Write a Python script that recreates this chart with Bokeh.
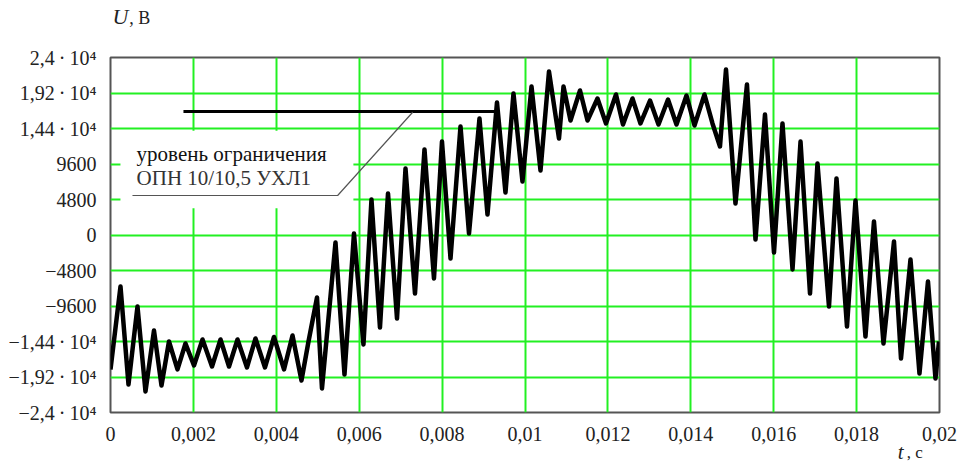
from bokeh.plotting import figure
from bokeh.models import FixedTicker, Label, Range1d
from bokeh.embed import file_html
from bokeh.resources import INLINE

# ---- data ----
t_s = [0.0, 0.000241, 0.000434, 0.000651, 0.000844, 0.001049, 0.001230, 0.001411,
       0.001616, 0.001809, 0.002014, 0.002220, 0.002449, 0.002654, 0.002859, 0.003064,
       0.003293, 0.003498, 0.003727, 0.003944, 0.004186, 0.004391, 0.004608, 0.004777,
       0.004982, 0.005102, 0.005428, 0.005645, 0.005874, 0.006103, 0.006296, 0.006501,
       0.006695, 0.006912, 0.007117, 0.007346, 0.007575, 0.007804, 0.007997, 0.008203,
       0.008444, 0.008649, 0.008902, 0.009095, 0.009324, 0.009529, 0.009722, 0.009939,
       0.010157, 0.010374, 0.010579, 0.010820, 0.010929, 0.011098, 0.011327, 0.011508,
       0.011749, 0.011954, 0.012195, 0.012364, 0.012593, 0.012786, 0.013016, 0.013221,
       0.013450, 0.013655, 0.013896, 0.014089, 0.014330, 0.014523, 0.014704, 0.014849,
       0.015078, 0.015355, 0.015561, 0.015790, 0.016007, 0.016212, 0.016454, 0.016647,
       0.016876, 0.017056, 0.017334, 0.017515, 0.017768, 0.017973, 0.018214, 0.018419,
       0.018649, 0.018902, 0.019071, 0.019300, 0.019517, 0.019722, 0.019903, 0.019987]
u_V = [-18180, -6960, -20210, -9670, -21160, -12910, -20350, -14400,
       -18180, -14670, -17640, -14130, -17780, -14130, -17780, -14130,
       -17910, -13990, -17910, -13790, -18180, -13590, -19670, -14400,
       -8450, -20750, -1010, -18860, 200, -14800, 4800, -12510,
       5610, -11290, 8990, -7910, 11560, -5880, 12640, -3180,
       14670, 200, 15750, 2770, 17910, 5750, 19130, 7230,
       20080, 8720, 22100, 13050, 20080, 15480, 19540, 15480,
       18460, 15080, 19000, 14940, 18460, 15080, 18180, 14940,
       18320, 14940, 18860, 14800, 19000, 15080, 11970, 22380,
       4260, 20350, -610, 16290, -2370, 15080, -4660, 12640,
       -7910, 9670, -9670, 7640, -12370, 4660, -13720, 1830,
       -14670, -880, -16700, -3310, -18730, -6290, -19400, -14400]

level_t = [0.00176, 0.00934]
level_u = [16700, 16700]
leader_t = [0.00053, 0.00548, 0.00729]
leader_u = [5340, 5340, 16600]
note_lines = ["уровень ограничения", "ОПН 10/10,5 УХЛ1"]

x_ticks = [0.0, 0.002, 0.004, 0.006, 0.008, 0.01, 0.012, 0.014, 0.016, 0.018, 0.02]
x_labels = ["0", "0,002", "0,004", "0,006", "0,008", "0,01", "0,012", "0,014", "0,016", "0,018", "0,02"]
y_ticks = [24000, 19200, 14400, 9600, 4800, 0, -4800, -9600, -14400, -19200, -24000]
y_labels = ["2,4\u2009·\u200910⁴", "1,92\u2009·\u200910⁴", "1,44\u2009·\u200910⁴", "9600", "4800", "0",
            "−4800", "−9600", "−1,44\u2009·\u200910⁴", "−1,92\u2009·\u200910⁴", "−2,4\u2009·\u200910⁴"]
y_sym, y_unit = "U", ", В"
x_sym, x_unit = "t", ", с"

SERIF = "Liberation Serif"

p = figure(width=964, height=464, output_backend="svg", toolbar_location=None,
           x_range=Range1d(0, 0.02), y_range=Range1d(-24000, 24000),
           min_border_left=110, min_border_right=25, min_border_top=57, min_border_bottom=52)
p.background_fill_color = "white"
p.border_fill_color = "white"
p.outline_line_color = "#555555"
p.outline_line_width = 2

for ax in (p.xaxis[0], p.yaxis[0]):
    ax.axis_line_color = None
    ax.major_tick_line_color = None
    ax.minor_tick_line_color = None
    ax.major_label_text_font = SERIF
    ax.major_label_text_font_size = "20px"
    ax.major_label_text_color = "#222222"

p.xaxis.ticker = FixedTicker(ticks=x_ticks)
p.yaxis.ticker = FixedTicker(ticks=y_ticks)
p.xaxis.major_label_overrides = {k: v for k, v in zip(x_ticks, x_labels)}
p.yaxis.major_label_overrides = {k: v for k, v in zip(y_ticks, y_labels)}
p.xaxis.major_label_standoff = 8
p.yaxis.major_label_standoff = 8

p.xgrid.ticker = FixedTicker(ticks=x_ticks)
p.ygrid.ticker = FixedTicker(ticks=y_ticks)
for g in (p.xgrid[0], p.ygrid[0]):
    g.grid_line_color = "#22f022"
    g.grid_line_width = 2

# axis titles: labels placed in side panels (outside the frame, not clipped)
p.add_layout(Label(x=0.00005, y=29500, text=y_sym, text_font=SERIF, text_font_style="italic",
                   text_font_size="22px", text_color="#222222", text_baseline="middle"), "above")
p.add_layout(Label(x=0.00045, y=29300, text=y_unit, text_font=SERIF,
                   text_font_size="18px", text_color="#222222", text_baseline="middle"), "above")
p.add_layout(Label(x=0.01899, y=-29300, text=x_sym, text_font=SERIF, text_font_style="italic",
                   text_font_size="21px", text_color="#222222", text_baseline="middle"), "right")
p.add_layout(Label(x=0.01921, y=-29400, text=x_unit, text_font=SERIF,
                   text_font_size="17px", text_color="#222222", text_baseline="middle"), "right")

# white box behind annotation text
p.quad(left=[0.00024], right=[0.00586], bottom=[3620], top=[14100],
       fill_color="white", line_color=None)

p.line(t_s, u_V, line_color="black", line_width=4.5, line_join="round")
p.line(level_t, level_u, line_color="black", line_width=3.2)
p.line(leader_t, leader_u, line_color="#555555", line_width=1.2)

p.add_layout(Label(x=0.00063, y=10900, text=note_lines[0], text_font=SERIF,
                   text_font_size="21px", text_color="#111111", text_baseline="middle"))
p.add_layout(Label(x=0.00063, y=7650, text=note_lines[1], text_font=SERIF,
                   text_font_size="21px", text_color="#333333", text_baseline="middle"))

open("out.html", "w").write(file_html(p, INLINE))
